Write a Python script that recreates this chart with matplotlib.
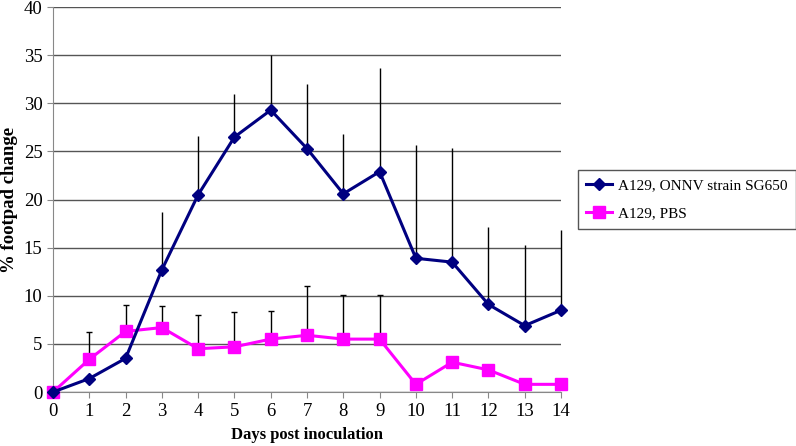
import numpy as np
import matplotlib
matplotlib.use("Agg")
import matplotlib.pyplot as plt

plt.rcParams['font.family'] = ['Liberation Serif', 'DejaVu Serif']

days = list(range(15))
# ONNV SG650 infected mice
onnv = [0, 1.4, 3.5, 12.7, 20.5, 26.5, 29.3, 25.3, 20.6, 22.9, 13.9, 13.5, 9.1, 6.9, 8.5]
onnv_top = [0, 1.4, 3.5, 18.7, 26.6, 31.0, 35.0, 32.0, 26.8, 33.7, 25.7, 25.4, 17.2, 15.3, 16.8]
# PBS controls
pbs = [0, 3.4, 6.3, 6.7, 4.5, 4.7, 5.5, 5.9, 5.5, 5.5, 0.8, 3.1, 2.3, 0.8, 0.8]
pbs_top = [0, 6.2, 9.0, 8.9, 8.0, 8.3, 8.4, 11.0, 10.1, 10.1, 0.8, 3.1, 2.3, 0.8, 0.8]

onnv_err = np.array(onnv_top) - np.array(onnv)
pbs_err = np.array(pbs_top) - np.array(pbs)
zeros = np.zeros(len(days))

fig = plt.figure(figsize=(7.96, 4.46), dpi=100)
ax = fig.add_axes([0.0666, 0.121, 0.6382, 0.863])

eb1 = ax.errorbar(days, onnv, yerr=[zeros, onnv_err], fmt='none', ecolor='black',
                  elinewidth=1, capsize=0, zorder=2)
eb2 = ax.errorbar(days, pbs, yerr=[zeros, pbs_err], fmt='none', ecolor='black',
                  elinewidth=1, capsize=2.5, capthick=1, zorder=2)
for eb in (eb1, eb2):
    for part in eb.get_children():
        part.set_clip_on(False)

ax.plot(days, onnv, color='#000080', marker='D', markersize=6.5, lw=2.2,
        label='A129, ONNV strain SG650', clip_on=False, zorder=4)
ax.plot(days, pbs, color='#FF00FF', marker='s', markersize=8, lw=2.2,
        label='A129, PBS', clip_on=False, zorder=3)

ax.set_xlim(0, 14)
ax.set_ylim(0, 40)
ax.set_xticks(days)
ax.set_yticks(range(0, 41, 5))
ax.yaxis.grid(True, color='#555555', lw=1)
ax.set_axisbelow(True)
for s in ['top', 'right']:
    ax.spines[s].set_visible(False)
for s in ['left', 'bottom']:
    ax.spines[s].set_color('#888888')
ax.tick_params(axis='both', labelsize=13.5, color='#888888', length=4, direction='out')
ax.tick_params(axis='x', pad=4)

ax.set_xlabel('Days post inoculation', fontsize=12, fontweight='bold', labelpad=5)
fig.text(10 / 796, 1 - 200 / 446, '% footpad change', rotation=90, fontsize=13.5,
         fontweight='bold', ha='center', va='center')

leg = fig.legend(loc='upper left', bbox_to_anchor=(578 / 796, 1 - 170 / 446), fontsize=11,
                 fancybox=False, edgecolor='#555555', framealpha=1,
                 handlelength=1.7, handletextpad=0.4, borderpad=0.55, labelspacing=0.95,
                 borderaxespad=0)
leg.get_frame().set_linewidth(1)

fig.savefig('out.png', dpi=100)
